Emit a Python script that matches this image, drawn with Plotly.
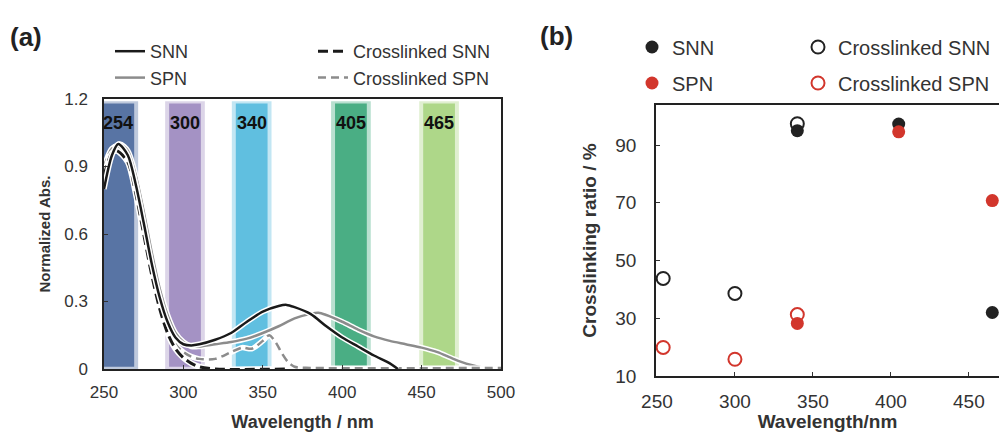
import plotly.graph_objects as go

# ---------------- Panel (a) data: normalized absorbance spectra ----------------
wl_snn = [250, 255, 259, 265, 270, 275, 280, 285, 290, 295, 300, 305, 310, 320, 330, 340,
          350, 360, 365, 370, 380, 390, 400, 410, 420, 430, 435]
abs_snn = [0.80, 0.95, 1.00, 0.95, 0.82, 0.65, 0.47, 0.32, 0.21, 0.14, 0.11, 0.105, 0.11,
           0.13, 0.16, 0.21, 0.255, 0.28, 0.285, 0.275, 0.245, 0.19, 0.14, 0.10, 0.06, 0.025, 0.0]

wl_spn = [250, 255, 260, 265, 270, 275, 280, 285, 290, 295, 300, 305, 310, 320, 330, 340,
          350, 360, 370, 380, 385, 390, 400, 410, 420, 430, 440, 450, 460, 470, 480, 490, 500]
abs_spn = [0.88, 0.97, 1.00, 0.97, 0.86, 0.70, 0.52, 0.36, 0.24, 0.16, 0.12, 0.10, 0.10,
           0.11, 0.12, 0.135, 0.16, 0.19, 0.225, 0.245, 0.25, 0.24, 0.21, 0.175, 0.145,
           0.125, 0.11, 0.095, 0.075, 0.045, 0.02, 0.005, 0.0]

wl_xsnn = [250, 255, 258, 265, 270, 275, 280, 285, 290, 295, 300, 305, 310, 320, 365]
abs_xsnn = [0.86, 0.96, 0.97, 0.92, 0.78, 0.60, 0.42, 0.27, 0.16, 0.09, 0.05, 0.025, 0.01,
            0.0, 0.0]

wl_xspn = [250, 255, 259, 265, 270, 275, 280, 285, 290, 295, 300, 305, 310, 320, 330, 337,
           343, 350, 354, 358, 362, 366, 370, 380, 500]
abs_xspn = [0.90, 0.98, 0.99, 0.94, 0.82, 0.64, 0.46, 0.31, 0.19, 0.11, 0.075, 0.055, 0.045,
            0.045, 0.075, 0.095, 0.09, 0.125, 0.15, 0.12, 0.07, 0.03, 0.01, 0.005, 0.005]

band_labels = ["254", "300", "340", "405", "465"]
band_centers = [259, 301, 343, 405.5, 461]
band_colors = ["#46659a", "#9a86bd", "#4fb7dc", "#36a577", "#a5d27c"]

# ---------------- Panel (b) data: crosslinking ratio ----------------
b_wl_snn = [340, 405, 465]
b_snn = [95.0, 97.3, 32.0]
b_wl_spn = [340, 405, 465]
b_spn = [28.2, 94.6, 70.8]
b_wl_xsnn = [254, 300, 340]
b_xsnn = [43.8, 38.6, 97.4]
b_wl_xspn = [254, 300, 340]
b_xspn = [19.9, 15.8, 31.3]

FONT = "Arial, Liberation Sans, sans-serif"
W, H = 999, 432
BLACK = "#1a1a1a"
GRAY = "#8c8c8c"
RED = "#d2362c"

fig = go.Figure()

# bands (panel a)
for c, col in zip(band_centers, band_colors):
    fig.add_shape(type="rect", xref="x", yref="y", x0=c - 12.5, x1=c + 12.5, y0=0, y1=1.19,
                  fillcolor=col, opacity=0.35, line_width=0, layer="below")
    fig.add_shape(type="rect", xref="x", yref="y", x0=c - 10, x1=c + 10, y0=0.01, y1=1.18,
                  fillcolor=col, opacity=0.85, line_width=0, layer="below")
for c, lab in zip(band_centers, band_labels):
    fig.add_annotation(x=c, y=1.093, xref="x", yref="y", text="<b>%s</b>" % lab,
                       showarrow=False, font=dict(family=FONT, size=18, color="#111"))

def add_line(x, y, name, color, width, dash, legend, rank):
    fig.add_trace(go.Scatter(x=x, y=y, mode="lines", line=dict(color="white", width=width + 3,
                             shape="spline", smoothing=0.8), showlegend=False,
                             hoverinfo="skip", xaxis="x", yaxis="y"))
    fig.add_trace(go.Scatter(x=x, y=y, mode="lines", name=name, legend=legend,
                             legendrank=rank,
                             line=dict(color=color, width=width, dash=dash, shape="spline",
                                       smoothing=0.8), xaxis="x", yaxis="y"))

add_line(wl_spn, abs_spn, "SPN", GRAY, 2.5, "solid", "legend", 2)
add_line(wl_xspn, abs_xspn, "Crosslinked SPN", GRAY, 2.5, "8px,5px", "legend2", 2)
add_line(wl_xsnn, abs_xsnn, "Crosslinked SNN", BLACK, 3, "10px,5px", "legend2", 1)
add_line(wl_snn, abs_snn, "SNN", BLACK, 2.5, "solid", "legend", 1)

# panel (b)
fig.add_trace(go.Scatter(x=b_wl_snn, y=b_snn, mode="markers", name="SNN", legend="legend3",
                         marker=dict(color="#222", size=13), xaxis="x2", yaxis="y2"))
fig.add_trace(go.Scatter(x=b_wl_spn, y=b_spn, mode="markers", name="SPN", legend="legend5",
                         marker=dict(color=RED, size=13), xaxis="x2", yaxis="y2"))
fig.add_trace(go.Scatter(x=b_wl_xsnn, y=b_xsnn, mode="markers", name="Crosslinked SNN",
                         legend="legend4",
                         marker=dict(color="#222", size=13, symbol="circle-open",
                                     line=dict(color="#222", width=2)),
                         xaxis="x2", yaxis="y2"))
fig.add_trace(go.Scatter(x=b_wl_xspn, y=b_xspn, mode="markers", name="Crosslinked SPN",
                         legend="legend6",
                         marker=dict(color=RED, size=13, symbol="circle-open",
                                     line=dict(color=RED, width=2)),
                         xaxis="x2", yaxis="y2"))

def px_x(p):
    return p / W

def px_y(p):
    return 1 - p / H

axis_common = dict(showline=True, mirror=True, linecolor="#222", linewidth=1.5,
                   ticks="inside", ticklen=4, tickcolor="#333", showgrid=False,
                   zeroline=False, automargin=False)

legend_common = dict(bgcolor="rgba(0,0,0,0)", borderwidth=0,
                     orientation="v", xanchor="left", yanchor="middle", itemsizing="trace",
                     traceorder="normal")
legend_a = dict(legend_common, yanchor="top")

fig.update_layout(
    width=W, height=H,
    margin=dict(l=0, r=0, t=0, b=0),
    paper_bgcolor="white", plot_bgcolor="white",
    font=dict(family=FONT, color="#222"),
    xaxis=dict(domain=[px_x(104), px_x(501)], range=[250, 500], anchor="y",
               tickvals=[250, 300, 350, 400, 450, 500],
               tickfont=dict(size=17, color="#333"), ticklabelstandoff=7,
               title=dict(text="<b>Wavelength / nm</b>", font=dict(size=18, color="#333"),
                          standoff=14),
               **axis_common),
    yaxis=dict(domain=[px_y(369), px_y(99)], range=[0, 1.2], anchor="x",
               tickvals=[0, 0.3, 0.6, 0.9, 1.2], ticktext=["0", "0.3", "0.6", "0.9", "1.2"],
               tickfont=dict(size=17, color="#333"), ticklabelstandoff=11,
               title=dict(text="<b>Normalized Abs.</b>", font=dict(size=15, color="#333"),
                          standoff=10),
               **axis_common),
    xaxis2=dict(domain=[px_x(656), 1.0], range=[249.4, 469.3], anchor="y2",
                tickvals=[250, 300, 350, 400, 450],
                tickfont=dict(size=19, color="#333"), ticklabelstandoff=7,
                title=dict(text="<b>Wavelength/nm</b>", font=dict(size=19, color="#333"),
                           standoff=14),
                **axis_common),
    yaxis2=dict(domain=[px_y(376), px_y(105)], range=[10, 103.9], anchor="x2",
                tickvals=[10, 30, 50, 70, 90],
                tickfont=dict(size=19, color="#333"), ticklabelstandoff=14,
                title=dict(text="<b>Crosslinking ratio / %</b>", font=dict(size=19, color="#333"),
                           standoff=14),
                **axis_common),
    legend=dict(x=px_x(110), y=px_y(33), font=dict(size=18, color="#333"),
                tracegroupgap=2, **legend_a),
    legend2=dict(x=px_x(313), y=px_y(33), font=dict(size=18, color="#333"),
                 tracegroupgap=2, **legend_a),
    legend3=dict(x=px_x(632), y=px_y(47), font=dict(size=20, color="#333"), **legend_common),
    legend5=dict(x=px_x(632), y=px_y(83), font=dict(size=20, color="#333"), **legend_common),
    legend4=dict(x=px_x(798), y=px_y(47), font=dict(size=20, color="#333"), **legend_common),
    legend6=dict(x=px_x(798), y=px_y(83), font=dict(size=20, color="#333"), **legend_common),
    annotations=list(fig.layout.annotations) + [
        dict(x=px_x(8), y=px_y(37), xref="paper", yref="paper", text="<b>(a)</b>",
             showarrow=False, xanchor="left", yanchor="middle",
             font=dict(size=26, color="#222")),
        dict(x=px_x(538), y=px_y(36), xref="paper", yref="paper", text="<b>(b)</b>",
             showarrow=False, xanchor="left", yanchor="middle",
             font=dict(size=26, color="#222")),
    ],
)

fig.write_html("out.html", config={"displayModeBar": False},
               post_script="document.body.style.margin='0';")
